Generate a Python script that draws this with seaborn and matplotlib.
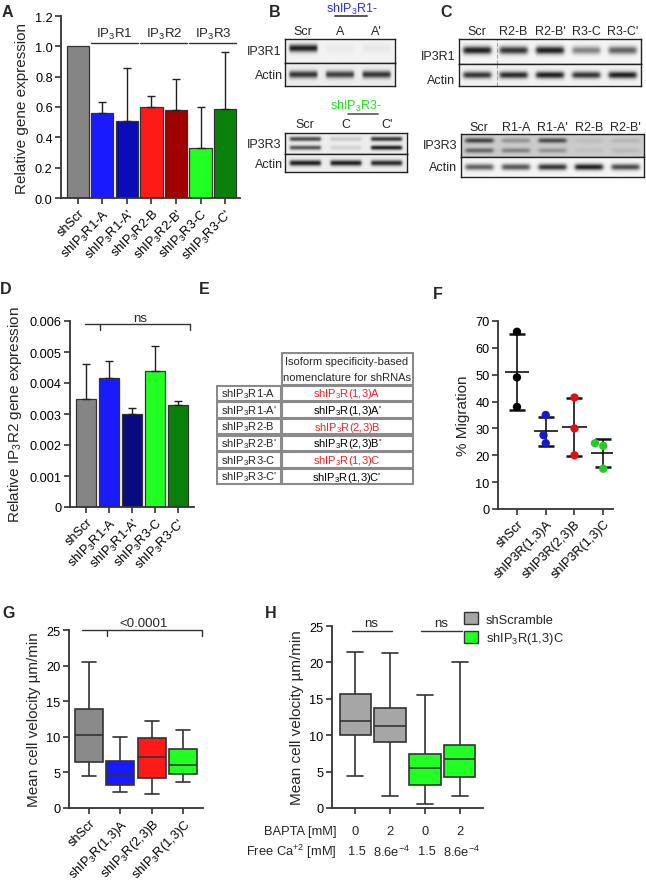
import numpy as np
import pandas as pd
import matplotlib
matplotlib.use("Agg")
import matplotlib.pyplot as plt
import matplotlib.transforms as mtransforms
from matplotlib.lines import Line2D
from matplotlib.patches import Rectangle, Patch
import seaborn as sns

W, H = 646, 887

# Panel A - relative gene expression
a_labels = ["shScr", "shIP$_3$R1-A", "shIP$_3$R1-A'", "shIP$_3$R2-B", "shIP$_3$R2-B'",
            "shIP$_3$R3-C", "shIP$_3$R3-C'"]
a_values = [1.0, 0.56, 0.51, 0.60, 0.58, 0.33, 0.585]
a_err = [0.0, 0.075, 0.345, 0.07, 0.205, 0.27, 0.38]
a_colors = ["#858585", "#1a1aff", "#0b0bb8", "#ff1a1a", "#a00000", "#22ff22", "#0a800a"]
a_groups = ["IP$_3$R1", "IP$_3$R2", "IP$_3$R3"]

# Panel B / C - western blot band strengths (0 = none, 1 = saturated)
b_lanes_1 = ["Scr", "A", "A'"]
b_ip3r1 = [0.95, 0.04, 0.05]
b_actin_1 = [0.85, 0.8, 0.85]
b_lanes_3 = ["Scr", "C", "C'"]
b_ip3r3_up = [0.75, 0.15, 0.85]
b_ip3r3_low = [0.7, 0.12, 0.95]
b_actin_3 = [0.95, 0.95, 0.9]
c_lanes_1 = ["Scr", "R2-B", "R2-B'", "R3-C", "R3-C'"]
c_ip3r1 = [0.95, 0.85, 0.95, 0.5, 0.65]
c_actin_1 = [0.85, 0.9, 0.95, 0.85, 0.95]
c_lanes_3 = ["Scr", "R1-A", "R1-A'", "R2-B", "R2-B'"]
c_ip3r3_up = [0.75, 0.3, 0.7, 0.08, 0.12]
c_ip3r3_low = [0.55, 0.4, 0.3, 0.06, 0.1]
c_actin_3 = [0.65, 0.7, 0.85, 0.95, 0.75]

# Panel D - IP3R2 expression
d_labels = ["shScr", "shIP$_3$R1-A", "shIP$_3$R1-A'", "shIP$_3$R3-C", "shIP$_3$R3-C'"]
d_values = [0.0035, 0.00415, 0.0030, 0.0044, 0.0033]
d_err = [0.0011, 0.00055, 0.0002, 0.0008, 0.00013]
d_colors = ["#858585", "#1a1aff", "#0a0a80", "#22ff22", "#0a800a"]

# Panel E - nomenclature table
e_old = ["shIP$_3$R1-A", "shIP$_3$R1-A'", "shIP$_3$R2-B", "shIP$_3$R2-B'", "shIP$_3$R3-C", "shIP$_3$R3-C'"]
e_new = ["shIP$_3$R(1,3)A", "shIP$_3$R(1,3)A'", "shIP$_3$R(2,3)B", "shIP$_3$R(2,3)B'",
         "shIP$_3$R(1,3)C", "shIP$_3$R(1,3)C'"]
e_highlight = [True, False, True, False, True, False]

# Panel F - % migration
f_groups = ["shScr", "shIP3R(1,3)A", "shIP3R(2,3)B", "shIP3R(1,3)C"]
f_points = [[66, 49, 38], [35, 27.5, 24.5], [41.5, 30, 20], [24.5, 23.5, 15]]
f_colors = ["#000000", "#1a1acc", "#e01010", "#22cc22"]

# Panel G - cell velocity box plots
g_groups = ["shScr", "shIP$_3$R(1,3)A", "shIP$_3$R(2,3)B", "shIP$_3$R(1,3)C"]
g_low = [4.5, 2.2, 1.9, 3.7]
g_q1 = [6.5, 3.2, 4.2, 4.8]
g_med = [10.3, 4.7, 7.1, 6.0]
g_q3 = [13.9, 6.6, 9.8, 8.3]
g_high = [20.5, 10.0, 12.2, 10.9]
g_colors = ["#8a8a8a", "#1a1aff", "#ff1a1a", "#22ff22"]

# Panel H - BAPTA
h_conditions = ["scr0", "scr2", "c0", "c2"]
h_genotype = ["shScramble", "shScramble", "shIP$_3$R(1,3)C", "shIP$_3$R(1,3)C"]
h_bapta = ["0", "2", "0", "2"]
h_calcium = ["1.5", "8.6e$^{-4}$", "1.5", "8.6e$^{-4}$"]
h_low = [4.4, 1.6, 0.5, 1.7]
h_q1 = [10.0, 9.0, 3.1, 4.3]
h_med = [11.9, 11.2, 5.5, 6.7]
h_q3 = [15.6, 13.8, 7.4, 8.6]
h_high = [21.4, 21.3, 15.5, 20.1]
h_colors = {"shScramble": "#a6a6a6", "shIP$_3$R(1,3)C": "#22ff22"}

sns.set_style("ticks")
plt.rcParams["font.family"] = ["Liberation Sans", "DejaVu Sans"]
plt.rcParams["mathtext.fontset"] = "custom"
plt.rcParams["mathtext.rm"] = "Liberation Sans"
plt.rcParams["mathtext.it"] = "Liberation Sans:italic"
plt.rcParams["mathtext.bf"] = "Liberation Sans:bold"
plt.rcParams["mathtext.default"] = "regular"
plt.rcParams["axes.edgecolor"] = "#333333"

TICK_FS = 9.2
LABEL_FS = 11

fig = plt.figure(figsize=(W / 100, H / 100), dpi=100)


def px_axes(x0, y0, x1, y1):
    return fig.add_axes([x0 / W, 1 - y1 / H, (x1 - x0) / W, (y1 - y0) / H])


def ftext(x, y, s, **kw):
    fig.text(x / W, 1 - y / H, s, **kw)


def fline(x0, x1, y, **kw):
    fig.add_artist(Line2D([x0 / W, x1 / W], [1 - y / H, 1 - y / H], transform=fig.transFigure, **kw))


def style_axes(ax):
    sns.despine(ax=ax)
    ax.spines["left"].set_linewidth(1.3)
    ax.spines["bottom"].set_linewidth(1.3)
    ax.tick_params(direction="out", length=4, width=1.2, labelsize=TICK_FS, color="#333333",
                   labelcolor="black", pad=2)
    ax.set_xlabel("")


def draw_blot(x0, y0, x1, y1, bands, bg=0.94, sigma=0.16):
    ax = px_axes(x0, y0, x1, y1)
    n = len(bands[0][1])
    xs = np.linspace(0, 1, 500)
    ys = np.linspace(0, 1, 80)
    img = np.full((80, 500), bg)
    for yc, strengths in bands:
        vy = np.exp(-((ys - yc) / sigma) ** 2)
        for i, s in enumerate(strengths):
            xc = (i + 0.5) / n
            half = 0.38 / n
            hx = 0.5 * (np.tanh((xs - (xc - half)) / 0.012) - np.tanh((xs - (xc + half)) / 0.012))
            img -= s * np.outer(vy, hx) * (bg - 0.08)
    ax.imshow(np.clip(img, 0, 1), cmap="gray", vmin=0, vmax=1, extent=(0, 1, 0, 1),
              aspect="auto", origin="lower", interpolation="bilinear")
    ax.set_xlim(0, 1)
    ax.set_ylim(0, 1)
    ax.set_xticks([])
    ax.set_yticks([])
    for sp in ax.spines.values():
        sp.set_color("#222222")
        sp.set_linewidth(1.0)
    return ax


# ---------------- Panel A ----------------
ax_a = px_axes(61, 17, 240, 199)
dfa = pd.DataFrame({"sample": a_labels, "value": a_values})
sns.barplot(data=dfa, x="sample", y="value", hue="sample", palette=a_colors, legend=False,
            saturation=1, width=0.9, edgecolor="#333333", linewidth=0.9, ax=ax_a)
ax_a.errorbar(np.arange(1, 7), a_values[1:], yerr=[np.zeros(6), a_err[1:]], fmt="none",
              ecolor="#222222", elinewidth=1, capsize=3.2, capthick=1)
ax_a.set_xlim(-0.69, 6.61)
ax_a.set_ylim(0, 1.2)
ticks = np.round(np.arange(0, 1.21, 0.2), 1)
ax_a.set_yticks(ticks, [f"{v:.1f}" for v in ticks])
ax_a.set_xticks(range(7), a_labels, rotation=45, ha="right", rotation_mode="anchor")
style_axes(ax_a)
ax_a.set_ylabel("Relative gene expression", fontsize=LABEL_FS)
for i, g in enumerate(a_groups):
    left, right = 1 + 2 * i - 0.45, 2 + 2 * i + 0.45
    ax_a.plot([left, right], [1.02, 1.02], color="#333333", lw=1, clip_on=False)
    ax_a.text((left + right) / 2, 1.085, g, ha="center", va="center", fontsize=9.5)

# ---------------- Panel B ----------------
draw_blot(285, 40, 395, 64, [(0.62, b_ip3r1)], bg=0.95)
draw_blot(285, 64, 395, 87, [(0.5, b_actin_1)], bg=0.93)
draw_blot(285, 134, 407, 155, [(0.72, b_ip3r3_up), (0.3, b_ip3r3_low)], bg=0.93, sigma=0.11)
draw_blot(285, 155, 407, 173, [(0.5, b_actin_3)], bg=0.93)
for i, lab in enumerate(b_lanes_1):
    ftext(285 + (i + 0.5) * 110 / 3, 32, lab, ha="center", va="center", fontsize=9)
for i, lab in enumerate(b_lanes_3):
    ftext(285 + (i + 0.5) * 122 / 3, 125, lab, ha="center", va="center", fontsize=9)
ftext(281, 52, "IP3R1", ha="right", va="center", fontsize=9)
ftext(283, 76, "Actin", ha="right", va="center", fontsize=9)
ftext(281, 145, "IP3R3", ha="right", va="center", fontsize=9)
ftext(283, 165, "Actin", ha="right", va="center", fontsize=9)
ftext(352, 9, "shIP$_3$R1-", ha="center", va="center", fontsize=9, color="#3030dd")
fline(335, 367, 17, color="#555555", lw=1.4)
ftext(356, 106, "shIP$_3$R3-", ha="center", va="center", fontsize=9, color="#22dd22")
fline(348, 378, 115, color="#555555", lw=1.2)

# ---------------- Panel C ----------------
ax = draw_blot(459, 40, 641, 65, [(0.55, c_ip3r1)], bg=0.96)
ax.axvline((497 - 459) / 182, ls="--", color="#aaaaaa", lw=0.8)
ax = draw_blot(459, 65, 641, 87, [(0.5, c_actin_1)], bg=0.95)
ax.axvline((497 - 459) / 182, ls="--", color="#aaaaaa", lw=0.8)
draw_blot(461, 135, 644, 158, [(0.72, c_ip3r3_up), (0.28, c_ip3r3_low)], bg=0.8, sigma=0.11)
draw_blot(461, 158, 644, 178, [(0.5, c_actin_3)], bg=0.96)
for i, lab in enumerate(c_lanes_1):
    ftext(459 + (i + 0.5) * 182 / 5, 32, lab, ha="center", va="center", fontsize=9)
for i, lab in enumerate(c_lanes_3):
    ftext(461 + (i + 0.5) * 183 / 5, 128, lab, ha="center", va="center", fontsize=9)
ftext(455, 57, "IP3R1", ha="right", va="center", fontsize=9)
ftext(455, 81, "Actin", ha="right", va="center", fontsize=9)
ftext(457, 146, "IP3R3", ha="right", va="center", fontsize=9)
ftext(457, 168, "Actin", ha="right", va="center", fontsize=9)

# ---------------- Panel D ----------------
ax_d = px_axes(70, 322, 194, 508)
dfd = pd.DataFrame({"sample": d_labels, "value": d_values})
sns.barplot(data=dfd, x="sample", y="value", hue="sample", palette=d_colors, legend=False,
            saturation=1, width=0.87, edgecolor="#333333", linewidth=0.9, ax=ax_d)
ax_d.errorbar(np.arange(5), d_values, yerr=[np.zeros(5), d_err], fmt="none",
              ecolor="#222222", elinewidth=1, capsize=3.2, capthick=1)
ax_d.set_xlim(-0.7, 4.7)
ax_d.set_ylim(0, 0.006)
dticks = np.round(np.arange(0, 0.0061, 0.001), 3)
ax_d.set_yticks(dticks, ["0"] + [f"{v:.3f}" for v in dticks[1:]])
ax_d.set_xticks(range(5), d_labels, rotation=45, ha="right", rotation_mode="anchor")
style_axes(ax_d)
ax_d.set_ylabel("Relative IP$_3$R2 gene expression", fontsize=LABEL_FS)
ax_d.plot([-0.05, 4.52], [0.0059, 0.0059], color="#333333", lw=1, clip_on=False)
ax_d.plot([0.6, 0.6], [0.0059, 0.00572], color="#333333", lw=1, clip_on=False)
ax_d.plot([4.52, 4.52], [0.0059, 0.00572], color="#333333", lw=1, clip_on=False)
ax_d.text(2.35, 0.0061, "ns", ha="center", va="center", fontsize=9.5)

# ---------------- Panel E ----------------
ax_e = px_axes(216, 353, 414, 487)
ax_e.set_xlim(216, 414)
ax_e.set_ylim(487, 353)
ax_e.axis("off")
edge = "#8a8a8a"
ax_e.add_patch(Rectangle((281.5, 353.8), 131.5, 32, fill=False, ec=edge, lw=1.5))
ax_e.text(347, 362, "Isoform specificity-based", ha="center", va="center", fontsize=8)
ax_e.text(347, 378, "nomenclature for shRNAs", ha="center", va="center", fontsize=8)
row_h = 100 / len(e_old)
for i, (old, new, hl) in enumerate(zip(e_old, e_new, e_highlight)):
    top = 386.5 + i * row_h
    ax_e.add_patch(Rectangle((216.8, top), 64, row_h - 1.2, fill=False, ec=edge, lw=1.5))
    ax_e.add_patch(Rectangle((281.5, top), 131.5, row_h - 1.2, fill=False, ec=edge, lw=1.5))
    yc = top + (row_h - 1.2) / 2
    ax_e.text(221, yc, old, ha="left", va="center", fontsize=8)
    ax_e.text(347, yc, new, ha="center", va="center", fontsize=8,
              color="#e8262a" if hl else "black")

# ---------------- Panel F ----------------
ax_f = px_axes(498, 322, 613, 510)
dff = pd.DataFrame({"group": np.repeat(f_groups, 3), "value": np.concatenate(f_points)})
means = [np.mean(p) for p in f_points]
sds = [np.std(p, ddof=1) for p in f_points]
ax_f.hlines(means, np.arange(4) - 0.42, np.arange(4) + 0.42, color="#111111", lw=1.2)
ax_f.errorbar(np.arange(4), means, yerr=sds, fmt="none", ecolor="#111111", elinewidth=1.2,
              capsize=5.8, capthick=1.8)
sns.swarmplot(data=dff, x="group", y="value", hue="group", palette=f_colors, legend=False,
              size=6, ax=ax_f)
ax_f.set_xlim(-0.66, 3.34)
ax_f.set_ylim(0, 70)
ax_f.set_yticks(range(0, 71, 10))
ax_f.set_xticks(range(4), f_groups, rotation=45, ha="right", rotation_mode="anchor")
style_axes(ax_f)
ax_f.set_ylabel("% Migration", fontsize=LABEL_FS)

# ---------------- Panel G ----------------
ax_g = px_axes(69, 631, 203, 809)
rows = []
for g, stats in zip(g_groups, zip(g_low, g_q1, g_med, g_q3, g_high)):
    for v in stats:
        rows.append((g, v))
dfg = pd.DataFrame(rows, columns=["group", "value"])
sns.boxplot(data=dfg, x="group", y="value", hue="group", palette=g_colors, legend=False,
            saturation=1, whis=(0, 100), width=0.9, linecolor="#333333", linewidth=1.2, ax=ax_g)
ax_g.set_xlim(-0.64, 3.64)
ax_g.set_ylim(0, 25)
ax_g.set_yticks(range(0, 26, 5))
ax_g.set_xticks(range(4), g_groups, rotation=45, ha="right", rotation_mode="anchor")
style_axes(ax_g)
ax_g.set_ylabel("Mean cell velocity µm/min", fontsize=LABEL_FS)
ax_g.plot([-0.22, 3.6], [25, 25], color="#333333", lw=1, clip_on=False)
ax_g.plot([0.57, 0.57], [25, 24.2], color="#333333", lw=1, clip_on=False)
ax_g.plot([3.6, 3.6], [25, 24.2], color="#333333", lw=1, clip_on=False)
ax_g.text(1.73, 26.0, "<0.0001", ha="center", va="center", fontsize=9.5)

# ---------------- Panel H ----------------
ax_h = px_axes(332, 627, 483, 809)
rows = []
for c, gt, stats in zip(h_conditions, h_genotype, zip(h_low, h_q1, h_med, h_q3, h_high)):
    for v in stats:
        rows.append((c, gt, v))
dfh = pd.DataFrame(rows, columns=["condition", "genotype", "value"])
sns.boxplot(data=dfh, x="condition", y="value", hue="genotype", palette=h_colors, legend=False,
            saturation=1, dodge=False, whis=(0, 100), width=0.89, linecolor="#333333",
            linewidth=1.2, ax=ax_h)
ax_h.set_xlim(-0.66, 3.66)
ax_h.set_ylim(0, 25)
ax_h.set_yticks(range(0, 26, 5))
ax_h.set_xticks(range(4), [""] * 4)
style_axes(ax_h)
ax_h.set_ylabel("Mean cell velocity µm/min", fontsize=LABEL_FS)
for a, b in [(0, 1), (2, 3)]:
    ax_h.plot([a - 0.1, b + 0.05], [24.3, 24.3], color="#333333", lw=1, clip_on=False)
    ax_h.text((a + b) / 2 - 0.03, 25.4, "ns", ha="center", va="center", fontsize=9.5)
blend = mtransforms.blended_transform_factory(ax_h.transData, fig.transFigure)
for i, (bp, ca) in enumerate(zip(h_bapta, h_calcium)):
    ax_h.text(i, 1 - 832 / H, bp, transform=blend, ha="center", va="center", fontsize=9.3)
    ax_h.text(i + 0.05, 1 - 852 / H, ca, transform=blend, ha="center", va="center", fontsize=9.3)
ftext(337, 832, "BAPTA [mM]", ha="right", va="center", fontsize=9.3)
ftext(337, 852, "Free Ca$^{+2}$ [mM]", ha="right", va="center", fontsize=9.3)
handles = [Patch(facecolor=col, edgecolor="#333333", label=lab) for lab, col in h_colors.items()]
fig.legend(handles=handles, loc="upper left", bbox_to_anchor=(464 / W, 1 - 613 / H), frameon=False,
           fontsize=9.3, handlelength=1.1, handleheight=1.1, handletextpad=0.6, labelspacing=0.35,
           borderaxespad=0, borderpad=0)

# panel letters
for letter, x, y in [("A", 2, 5), ("B", 269, 5), ("C", 440, 5), ("D", 0, 282), ("E", 199, 282),
                     ("F", 433, 287), ("G", 2, 606), ("H", 265, 606)]:
    ftext(x, y, letter, ha="left", va="top", fontsize=11.5, fontweight="bold")

fig.savefig("out.png", dpi=100)
